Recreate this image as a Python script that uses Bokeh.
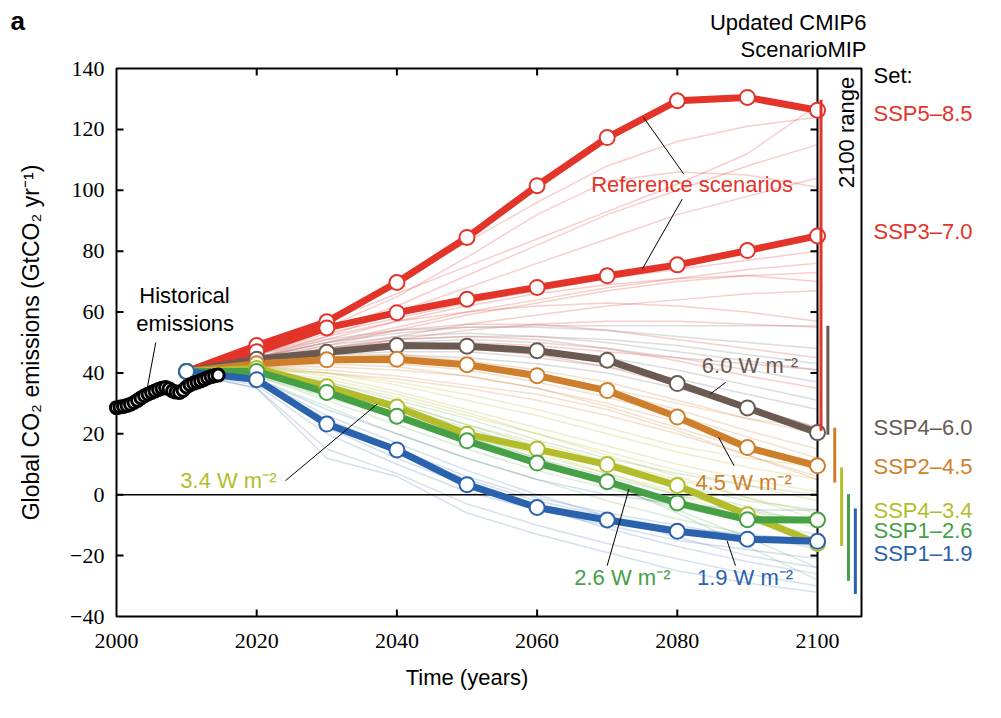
import math
from bokeh.plotting import figure
from bokeh.models import Label, ColumnDataSource, Range1d
from bokeh.embed import file_html
from bokeh.resources import INLINE

FONT = "Liberation Sans"
FS = "22px"

# ---------------- data ----------------
years = [2010, 2020, 2030, 2040, 2050, 2060, 2070, 2080, 2090, 2100]

hist_years = [2000, 2000.5, 2001, 2001.5, 2002, 2002.5, 2003, 2003.5, 2004, 2004.5,
              2005, 2005.5, 2006, 2006.5, 2007, 2007.5, 2008, 2008.5, 2009, 2009.5,
              2010, 2010.5, 2011, 2011.5, 2012, 2012.5, 2013, 2013.5, 2014, 2014.5]
hist_values = [28.6, 28.8, 29.0, 29.3, 29.7, 30.3, 31.0, 31.8, 32.5, 33.1,
               33.6, 34.1, 34.6, 35.0, 35.2, 34.8, 34.1, 33.7, 33.6, 34.3,
               35.4, 36.1, 36.6, 37.0, 37.4, 37.9, 38.4, 38.8, 39.1, 39.3]

ssp585 = [40.5, 49.0, 56.8, 69.7, 84.5, 101.5, 117.3, 129.4, 130.5, 126.3]
ssp370 = [40.5, 47.0, 54.8, 59.8, 64.2, 68.1, 71.9, 75.5, 80.2, 85.0]
ssp460 = [40.5, 44.5, 46.8, 49.0, 48.8, 47.3, 44.2, 36.5, 28.5, 20.4]
ssp245 = [40.5, 43.0, 44.3, 44.5, 42.7, 39.1, 34.2, 25.5, 15.5, 9.5]
ssp434 = [40.5, 41.5, 35.5, 28.8, 19.9, 15.0, 9.9, 3.0, -6.6, -16.0]
ssp126 = [40.5, 40.5, 33.6, 25.8, 17.7, 10.4, 4.3, -2.7, -8.2, -8.3]
ssp119 = [40.5, 37.8, 23.2, 14.7, 3.3, -4.2, -8.3, -12.0, -14.6, -15.3]

# faint ensemble members (read by eye)
red_members = [
    [40, 47, 58, 70, 83, 96, 108, 116, 121, 124],
    [40, 48, 57, 66, 75, 84, 93, 102, 112, 128],
    [40, 46, 54, 62, 72, 82, 92, 100, 108, 115],
    [40, 45, 52, 60, 68, 76, 84, 92, 98, 104],
    [40, 46, 55, 65, 78, 92, 103, 106, 105, 101],
    [40, 46, 53, 58, 63, 67, 71, 74, 77, 80],
    [40, 45, 50, 55, 60, 64, 68, 71, 74, 76],
    [40, 44, 49, 54, 59, 63, 67, 70, 72, 73],
    [40, 45, 51, 57, 62, 66, 69, 71, 72, 70],
    [40, 44, 48, 52, 56, 59, 62, 64, 66, 67],
    [40, 46, 52, 57, 60, 62, 63, 62, 60, 57],
    [40, 43, 47, 51, 54, 56, 57, 57, 56, 55],
    [40, 45, 50, 54, 56, 56, 54, 51, 48, 45],
    [40, 44, 48, 51, 52, 51, 48, 44, 39, 35],
    [40, 43, 46, 48, 48, 46, 42, 36, 29, 22],
    [40, 44, 47, 49, 50, 49, 47, 45, 43, 41],
]
gray_members = [
    [40, 46, 51, 54, 55, 55.5, 55.5, 55.5, 55.5, 55.5],
    [40, 45, 50, 53, 55, 55, 54, 52, 50, 48],
    [40, 45, 49, 52, 53, 52, 50, 47, 44, 41],
    [40, 44, 48, 50, 51, 50, 48, 45, 41, 37],
    [40, 44, 47, 49, 49, 48, 45, 41, 36, 31],
    [40, 43, 46, 47, 47, 45, 42, 38, 33, 28],
    [40, 44, 48, 51, 52, 52, 51, 49, 46, 43],
    [40, 43, 45, 46, 45, 43, 40, 35, 29, 22],
]
orange_members = [
    [40, 44, 46, 46, 44, 41, 37, 31, 25, 20],
    [40, 43, 45, 45, 43, 39, 34, 28, 21, 15],
    [40, 43, 44, 43, 41, 37, 32, 26, 19, 12],
    [40, 42, 42, 41, 39, 35, 30, 24, 16, 8],
    [40, 42, 41, 39, 36, 33, 28, 21, 13, 5],
    [40, 43, 45, 44, 42, 39, 35, 30, 25, 22],
    [40, 42, 43, 42, 39, 35, 29, 22, 15, 10],
    [40, 41, 40, 38, 35, 31, 26, 20, 13, 6],
]
yellow_members = [
    [40, 42, 40, 36, 31, 26, 20, 14, 9, 5],
    [40, 42, 39, 34, 28, 22, 16, 10, 5, 1],
    [40, 41, 37, 32, 26, 20, 14, 8, 3, -2],
    [40, 41, 36, 30, 23, 17, 11, 5, -1, -6],
    [40, 40, 34, 27, 20, 13, 7, 1, -5, -11],
    [40, 42, 40, 37, 33, 28, 22, 16, 12, 9],
    [40, 41, 38, 33, 27, 20, 13, 6, -1, -8],
    [40, 40, 35, 28, 21, 14, 7, 0, -8, -16],
]
green_members = [
    [40, 41, 37, 31, 25, 18, 12, 7, 3, 0],
    [40, 40, 35, 29, 22, 15, 9, 3, -2, -5],
    [40, 40, 33, 26, 19, 12, 6, 0, -5, -9],
    [40, 39, 31, 23, 15, 8, 2, -4, -9, -13],
    [40, 38, 29, 20, 12, 5, -2, -8, -13, -18],
    [40, 39, 32, 25, 18, 10, 3, -5, -14, -24],
    [40, 40, 34, 28, 20, 12, 4, -6, -17, -28],
    [40, 41, 36, 30, 23, 16, 9, 2, -4, -10],
]
blue_members = [
    [40, 38, 28, 20, 12, 5, 0, -3, -5, -5],
    [40, 37, 24, 14, 5, -2, -7, -11, -13, -15],
    [40, 36, 20, 10, 1, -5, -10, -15, -18, -21],
    [40, 37, 22, 12, 3, -4, -11, -17, -22, -26],
    [40, 35, 15, 7, -3, -10, -16, -21, -26, -30],
    [40, 38, 26, 17, 8, 0, -7, -14, -20, -24],
    [40, 35, 12, 6, -6, -13, -19, -25, -29, -32],
    [40, 37, 25, 15, 6, -1, -6, -10, -14, -17],
]

# 2100 ranges per set
range_low = [21.0, 19.7, 4.0, -16.8, -28.3, -32.6]
range_high = [129.7, 55.5, 22.0, 9.0, 0.2, -4.5]

set_names = ["SSP5\u20138.5", "SSP3\u20137.0", "SSP4\u20136.0", "SSP2\u20134.5",
             "SSP4\u20133.4", "SSP1\u20132.6", "SSP1\u20131.9"]

x_ticks = [2000, 2020, 2040, 2060, 2080, 2100]
y_ticks = [-40, -20, 0, 20, 40, 60, 80, 100, 120, 140]

# ---------------- layout ----------------
W, H = 1001, 718
PX_LEFT, PX_TOP, PX_BOTTOM, PX_RIGHT = 116, 68, 616, 861
PPX = 7.01                                   # pixels per year
PPY = (PX_BOTTOM - PX_TOP) / (y_ticks[-1] - y_ticks[0])   # pixels per unit
X0, Y_TOP, Y_BOT = x_ticks[0], y_ticks[-1], y_ticks[0]
X_END = X0 + (PX_RIGHT - PX_LEFT) / PPX


def dx(px):  # horizontal pixel distance -> years
    return px / PPX


def dy(px):  # vertical pixel distance -> units
    return px / PPY


RED = "#e3342a"
BROWN = "#6a5a52"
ORANGE = "#cf7f2c"
YELLOW = "#b3bd2b"
GREEN = "#45a046"
BLUE = "#2a62ad"

p = figure(width=W, height=H,
           x_range=Range1d(X0 - dx(PX_LEFT), X0 + dx(W - PX_LEFT)),
           y_range=Range1d(Y_TOP - dy(H - PX_TOP), Y_TOP + dy(PX_TOP)),
           x_axis_location=None, y_axis_location=None,
           output_backend="svg", toolbar_location=None, min_border=0)
p.grid.visible = False
p.outline_line_color = None
p.background_fill_color = "white"
p.border_fill_color = "white"

# faint ensemble
groups = [(red_members, RED, 0.24), (gray_members, "#8a8a8a", 0.3), (orange_members, ORANGE, 0.24),
          (yellow_members, YELLOW, 0.24), (green_members, GREEN, 0.2), (blue_members, BLUE, 0.2)]
for members, col, a in groups:
    p.multi_line(xs=[years] * len(members), ys=members, line_color=col, line_alpha=a, line_width=1.5)

# zero line, 2100 line, frame, ticks
p.segment(x0=[X0], y0=[0], x1=[x_ticks[-1]], y1=[0], line_color="black", line_width=1.5)
p.segment(x0=[x_ticks[-1]], y0=[Y_BOT], x1=[x_ticks[-1]], y1=[Y_TOP], line_color="black", line_width=2)
p.quad(left=[X0], right=[X_END], bottom=[Y_BOT], top=[Y_TOP], fill_color=None,
       line_color="black", line_width=2)
TL = 7
inner_x = x_ticks[1:-1]
p.segment(x0=inner_x, y0=[Y_BOT] * len(inner_x), x1=inner_x, y1=[Y_BOT + dy(TL)] * len(inner_x),
          line_color="black", line_width=2)
p.segment(x0=inner_x, y0=[Y_TOP] * len(inner_x), x1=inner_x, y1=[Y_TOP - dy(TL)] * len(inner_x),
          line_color="black", line_width=2)
inner_y = y_ticks[1:-1]
p.segment(x0=[X0] * len(inner_y), y0=inner_y, x1=[X0 + dx(TL)] * len(inner_y), y1=inner_y,
          line_color="black", line_width=2)
p.segment(x0=[x_ticks[-1] - dx(TL)] * len(inner_y), y0=inner_y, x1=[x_ticks[-1]] * len(inner_y), y1=inner_y,
          line_color="black", line_width=2)

# tick labels
p.text(x=x_ticks, y=[Y_BOT - dy(24)] * len(x_ticks), text=[str(t) for t in x_ticks],
       text_align="center", text_baseline="middle", text_font=FONT, text_font_size=FS, text_color="black")
p.text(x=[X0 - dx(12)] * len(y_ticks), y=y_ticks, text=[("\u2212" + str(-t)) if t < 0 else str(t) for t in y_ticks],
       text_align="right", text_baseline="middle", text_font=FONT, text_font_size=FS, text_color="black")

# main scenarios
mains = [(ssp585, RED), (ssp370, RED), (ssp460, BROWN), (ssp245, ORANGE),
         (ssp434, YELLOW), (ssp126, GREEN), (ssp119, BLUE)]
for vals, col in mains:
    p.line(years, vals, line_color=col, line_width=7, line_join="round")
for vals, col in mains:
    p.scatter(years, vals, marker="circle", size=15, fill_color="white", line_color=col, line_width=2)

# historical
p.scatter(hist_years, hist_values, marker="circle", size=12, fill_color="white", line_color="black", line_width=3)

# 2100 range bars
range_cols = [RED, BROWN, ORANGE, YELLOW, GREEN, BLUE]
range_x = [x_ticks[-1] + 0.5 + 0.98 * i for i in range(len(range_low))]
p.segment(x0=range_x, y0=range_low, x1=range_x, y1=range_high, line_color=range_cols, line_width=3)

# leader lines (annotation geometry)
leaders = ColumnDataSource(dict(
    x0=[2005.6, 2075.2, 2080.7, 2086.9, 2085.9, 2073.1, 2087.1, 2024.1],
    y0=[50.0, 123.9, 97.1, 36.9, 18.8, 1.9, -15.1, 4.6],
    x1=[2004.4, 2080.9, 2075.0, 2084.7, 2088.1, 2070.0, 2088.3, 2037.2],
    y1=[35.2, 105.4, 74.1, 33.1, 9.5, -23.3, -23.3, 29.8],
))
p.segment(x0="x0", y0="y0", x1="x1", y1="y1", source=leaders, line_color="black", line_width=1)


def lab(x, y, text, color="black", align="left", angle=0.0, style="normal", size=FS):
    p.add_layout(Label(x=x, y=y, text=text, text_color=color, text_align=align, text_baseline="middle",
                       angle=angle, text_font=FONT, text_font_size=size, text_font_style=style))


lab(2009.7, 65.4, "Historical", align="center")
lab(2009.8, 56.1, "emissions", align="center")
lab(2082.1, 102.0, "Reference scenarios", RED, align="center")
lab(2083.5, 42.4, "6.0 W m\u207b\u00b2", BROWN)
lab(2082.6, 4.0, "4.5 W m\u207b\u00b2", ORANGE)
lab(2065.3, -27.2, "2.6 W m\u207b\u00b2", GREEN)
lab(2082.8, -27.2, "1.9 W m\u207b\u00b2", BLUE)
lab(2009.1, 4.6, "3.4 W m\u207b\u00b2", YELLOW)

lab(X0 - dx(86), (Y_TOP + Y_BOT) / 2, "Global CO\u2082 emissions (GtCO\u2082 yr\u207b\u00b9)",
    align="center", angle=math.pi / 2, size="23px")
lab((X0 + x_ticks[-1]) / 2, Y_BOT - dy(61), "Time (years)", align="center")
lab(2104.2, 119.0, "2100 range", align="center", angle=math.pi / 2)
lab(X0 + dx(750), Y_TOP + dy(46), "Updated CMIP6", align="right")
lab(X0 + dx(750), Y_TOP + dy(19), "ScenarioMIP", align="right")
lab(X0 - dx(106), Y_TOP + dy(48), "a", style="bold", size="26px")
lab(X0 + dx(757), 137.8, "Set:")

set_y = [125.2, 86.5, 22.0, 9.4, -5.3, -11.6, -19.2]
set_cols = [RED, RED, BROWN, ORANGE, YELLOW, GREEN, BLUE]
for name, yy, col in zip(set_names, set_y, set_cols):
    lab(X0 + dx(757), yy, name, col)

open("out.html", "w").write(file_html(p, INLINE))
